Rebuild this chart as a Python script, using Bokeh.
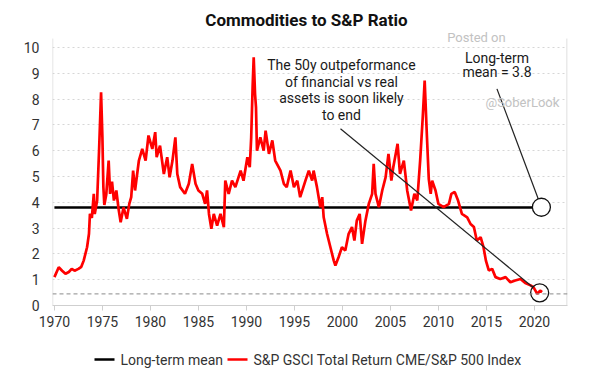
from bokeh.plotting import figure
from bokeh.layouts import column
from bokeh.core.properties import value
from bokeh.models import Range1d, Span, Label, FixedTicker, ColumnDataSource
from bokeh.embed import file_html
from bokeh.resources import INLINE

FONT = "Roboto"

# ---- data ----
years = [1970.0, 1970.45, 1970.8, 1971.15, 1971.5, 1971.8, 1972.1, 1972.5, 1972.8, 1973.05,
         1973.4, 1973.6, 1973.7, 1973.9, 1974.1, 1974.2, 1974.45, 1974.65, 1974.86, 1975.0,
         1975.1, 1975.2, 1975.4, 1975.65, 1975.8, 1976.0, 1976.2, 1976.45, 1976.7, 1976.9,
         1977.2, 1977.55, 1977.8, 1978.0, 1978.2, 1978.4, 1978.8, 1979.15, 1979.5, 1979.8,
         1980.2, 1980.5, 1980.65, 1981.0, 1981.4, 1981.75, 1982.0, 1982.3, 1982.6, 1982.8,
         1983.1, 1983.6, 1984.0, 1984.35, 1984.7, 1985.0, 1985.4, 1985.7, 1985.9, 1986.1,
         1986.35, 1986.6, 1986.95, 1987.3, 1987.65, 1987.8, 1988.15, 1988.5, 1988.85, 1989.4,
         1989.7, 1990.1, 1990.35, 1990.5, 1990.65, 1990.76, 1990.9, 1991.0, 1991.1, 1991.45,
         1991.8, 1992.0, 1992.35, 1992.7, 1993.0, 1993.55, 1993.9, 1994.2, 1994.6, 1994.95,
         1995.3, 1995.6, 1996.15, 1996.5, 1996.85, 1997.0, 1997.35, 1997.7, 1997.9, 1998.05,
         1998.4, 1998.75, 1999.1, 1999.27, 1999.6, 1999.95, 2000.3, 2000.65, 2001.0, 2001.25,
         2001.5, 2001.8, 2002.05, 2002.4, 2002.75, 2003.1, 2003.26, 2003.45, 2003.8, 2004.15,
         2004.5, 2004.8, 2005.1, 2005.3, 2005.75, 2006.0, 2006.4, 2006.75, 2007.15, 2007.5,
         2007.8, 2008.1, 2008.37, 2008.57, 2008.8, 2009.0, 2009.2, 2009.35, 2009.7, 2010.0,
         2010.55, 2011.1, 2011.35, 2011.7, 2012.05, 2012.45, 2013.0, 2013.35, 2013.7, 2014.0,
         2014.4, 2014.7, 2014.95, 2015.25, 2015.6, 2015.95, 2016.45, 2017.0, 2017.5, 2018.0,
         2018.55, 2019.05, 2019.6, 2019.9, 2020.3, 2020.6, 2020.8]
ratio = [1.10, 1.48, 1.35, 1.23, 1.30, 1.42, 1.35, 1.42, 1.50, 1.74,
         2.26, 2.78, 3.55, 3.40, 4.33, 3.55, 4.07, 6.00, 8.27, 6.50,
         4.59, 3.90, 4.30, 5.62, 4.33, 4.80, 4.07, 4.46, 3.70, 3.23,
         3.80, 3.36, 3.94, 4.20, 5.23, 4.46, 5.62, 6.07, 5.62, 6.59,
         6.07, 6.72, 5.75, 6.20, 5.10, 5.75, 4.97, 5.62, 6.52, 5.10,
         4.59, 4.33, 4.72, 5.49, 4.72, 4.46, 4.33, 3.94, 4.46, 3.55,
         2.97, 3.55, 3.10, 3.55, 3.04, 4.84, 4.33, 4.84, 4.59, 5.23,
         4.84, 5.75, 5.36, 6.52, 8.50, 9.62, 8.20, 7.68, 6.00, 6.52,
         6.00, 6.78, 5.88, 6.40, 5.62, 5.23, 4.72, 4.59, 5.23, 4.59,
         4.84, 4.20, 4.84, 5.23, 4.84, 5.23, 4.59, 3.81, 4.20, 3.42,
         2.78, 2.26, 1.74, 1.55, 1.87, 2.26, 2.13, 2.78, 3.04, 2.52,
         3.29, 3.55, 2.39, 3.29, 3.94, 4.33, 5.49, 4.33, 3.81, 4.46,
         4.97, 5.88, 4.84, 5.36, 6.27, 5.10, 5.62, 4.46, 3.68, 4.33,
         4.07, 5.62, 7.30, 8.72, 6.60, 4.90, 4.33, 4.84, 4.46, 3.94,
         3.81, 3.94, 4.33, 4.40, 4.07, 3.55, 3.42, 3.16, 3.04, 2.52,
         2.65, 2.26, 1.74, 1.36, 1.42, 1.10, 1.03, 1.10, 0.90, 0.97,
         1.03, 0.87, 0.78, 0.71, 0.45, 0.58, 0.52]

mean_value = 3.8
mean_years = [1970.0, 2020.0]
low_level = 0.45
x_ticks = [1970, 1975, 1980, 1985, 1990, 1995, 2000, 2005, 2010, 2015, 2020]
y_ticks = [0, 1, 2, 3, 4, 5, 6, 7, 8, 9, 10]

title_text = "Commodities to S&P Ratio"
title_x, title_y = 1996.25, 11.05
legend_labels = ["Long-term mean", "S&P GSCI Total Return CME/S&P 500 Index"]
legend_colors = ["black", "#ff0000"]
note_lines = ["The 50y outpeformance", "of financial vs real", "assets is soon likely", "to end"]
note_x = 1999.9
note_y = [9.34, 8.68, 8.06, 7.40]
mean_lines = ["Long-term", "mean = 3.8"]
mean_note_x = 2016.1
mean_note_y = [9.61, 9.07]
watermark_lines = ["Posted on", "@SoberLook"]
watermark_x = [2013.96, 2018.75]
watermark_y = [10.39, 7.87]

# circles and arrows
circle_x = [2020.55, 2020.73]
circle_y = [0.49, 3.81]
arrow_x0 = [1999.8, 2016.1]
arrow_y0 = [6.85, 8.40]
arrow_x1 = [2019.84, 2020.4]
arrow_y1 = [0.71, 4.14]

X0, X1 = 1969.8, 2023.45
Y0, Y1 = 0, 11.67
FRAME_TOP = 10.35

# ---- main figure ----
p = figure(width=585, height=340,
           x_range=Range1d(X0, X1), y_range=Range1d(Y0, Y1),
           output_backend="svg", toolbar_location=None,
           min_border_left=52, min_border_right=18, min_border_top=4, min_border_bottom=35)
p.background_fill_color = "white"
p.border_fill_color = "white"
p.outline_line_color = None

p.xgrid.grid_line_color = None
p.ygrid.grid_line_color = "#d6d6d6"
p.ygrid.grid_line_dash = "2 3"
p.ygrid.ticker = FixedTicker(ticks=y_ticks)

p.yaxis.ticker = FixedTicker(ticks=y_ticks)
p.xaxis.ticker = FixedTicker(ticks=x_ticks)
for ax in (p.xaxis[0], p.yaxis[0]):
    ax.major_label_text_font = FONT
    ax.major_label_text_font_size = "14px"
    ax.major_label_text_color = "#333333"
    ax.minor_tick_line_color = None
p.yaxis.axis_line_color = None
p.yaxis.major_tick_line_color = None
p.yaxis.major_label_standoff = 7
p.xaxis.axis_line_color = "#cfcfcf"
p.xaxis.major_tick_line_color = "#cfcfcf"
p.xaxis.major_tick_in = 0
p.xaxis.major_tick_out = 5
p.xaxis.major_label_standoff = 5

# chart title
p.add_layout(Label(x=title_x, y=title_y, text=title_text, text_align="center",
                   text_baseline="middle", text_font=FONT, text_font_size="17px",
                   text_font_style="bold", text_color="#111111"))

# frame edges (left and right), no top edge
p.segment([X0 + 0.02, X1 - 0.05], [Y0, Y0], [X0 + 0.02, X1 - 0.05], [FRAME_TOP, FRAME_TOP],
          line_color="#d4d4d4", line_width=1)
# dashed low line
p.add_layout(Span(location=low_level, dimension="width", line_color="#8a8a8a",
                  line_width=1, line_dash="4 3"))

src = ColumnDataSource(dict(x=years, y=ratio))
p.line(mean_years, [mean_value] * len(mean_years), line_color=legend_colors[0], line_width=2.5)
p.line("x", "y", source=src, line_color=legend_colors[1], line_width=2.7)

# arrows
p.segment(arrow_x0, arrow_y0, arrow_x1, arrow_y1, line_color="#222222", line_width=1.2)
p.scatter(circle_x[:1], circle_y[:1], marker="circle", size=18, fill_color=None,
          line_color="#111111", line_width=1.3)
p.scatter(circle_x[1:], circle_y[1:], marker="circle", size=18, fill_color="white",
          line_color="#111111", line_width=1.3)

for t, xx, yy in zip(watermark_lines, watermark_x, watermark_y):
    p.add_layout(Label(x=xx, y=yy, text=t, text_align="center", text_baseline="middle",
                       text_font=FONT, text_font_size="13px", text_color="#c2c2c2"))
for t, yy in zip(note_lines, note_y):
    p.add_layout(Label(x=note_x, y=yy, text=t, text_align="center", text_baseline="middle",
                       text_font=FONT, text_font_size="14px", text_color="#1a1a1a"))
for t, yy in zip(mean_lines, mean_note_y):
    p.add_layout(Label(x=mean_note_x, y=yy, text=t, text_align="center", text_baseline="middle",
                       text_font=FONT, text_font_size="14px", text_color="#1a1a1a"))

# ---- legend strip (pixel-scaled strip under the chart; frame aligned with chart frame) ----
LW, LH = 585, 40
q = figure(frame_width=LW, frame_height=LH, x_range=Range1d(0, LW), y_range=Range1d(0, LH),
           output_backend="svg", toolbar_location=None,
           x_axis_type=None, y_axis_type=None,
           min_border_left=0, min_border_right=0, min_border_top=0, min_border_bottom=0)
q.outline_line_color = None
q.background_fill_color = "white"
q.border_fill_color = "white"
q.xgrid.grid_line_color = None
q.ygrid.grid_line_color = None
row_y = 21
key_x0 = [42, 175]
key_len = 20
label_gap = 6
q.segment(x0=key_x0, y0=[row_y] * 2, x1=[k + key_len for k in key_x0], y1=[row_y] * 2,
          line_color=legend_colors, line_width=2.5)
q.text(x=[k + key_len + label_gap for k in key_x0], y=[row_y] * 2, text=legend_labels,
       text_font=value(FONT), text_font_size="14px", text_color="#333333",
       text_baseline="middle", text_align="left")

layout = column(p, q, spacing=0)
open("out.html", "w").write(file_html(layout, INLINE))
